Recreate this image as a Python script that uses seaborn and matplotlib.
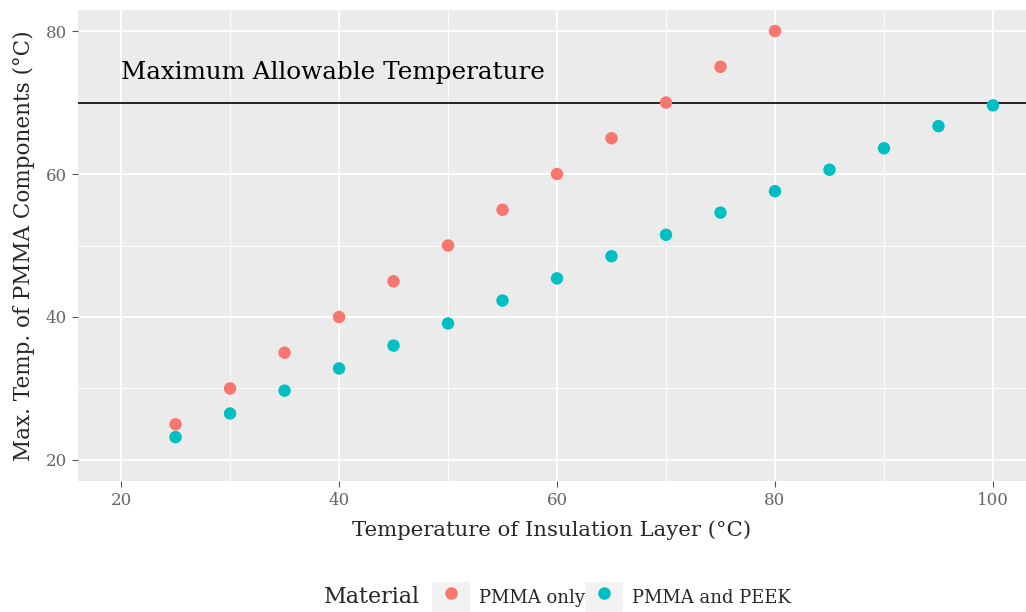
import matplotlib
matplotlib.use("Agg")
import matplotlib.pyplot as plt
import seaborn as sns
import pandas as pd
from matplotlib.lines import Line2D
from matplotlib.patches import Rectangle
from matplotlib.legend_handler import HandlerTuple

# Data
x_pmma = [25, 30, 35, 40, 45, 50, 55, 60, 65, 70, 75, 80]
y_pmma = [25, 30, 35, 40, 45, 50, 55, 60, 65, 70, 75, 80]
x_peek = [25, 30, 35, 40, 45, 50, 55, 60, 65, 70, 75, 80, 85, 90, 95, 100]
y_peek = [23.2, 26.5, 29.7, 32.8, 36.0, 39.1, 42.3, 45.4, 48.5, 51.5, 54.6, 57.6, 60.6, 63.6, 66.7, 69.6]
series_names = ["PMMA only", "PMMA and PEEK"]
max_allowable = 70
x_ticks = [20, 40, 60, 80, 100]
y_ticks = [20, 40, 60, 80]

df = pd.concat([
    pd.DataFrame({"x": x_pmma, "y": y_pmma, "Material": series_names[0]}),
    pd.DataFrame({"x": x_peek, "y": y_peek, "Material": series_names[1]}),
])

sns.set_theme(style="darkgrid")
plt.rcParams["font.family"] = ["DejaVu Serif"]

palette = {series_names[0]: "#F8766D", series_names[1]: "#00BFC4"}

fig = plt.figure(figsize=(10.26, 6.12), dpi=100)
ax = fig.add_axes([78/1026, 1 - 481/612, 1 - 78/1026, (481 - 10)/612])
ax.set_facecolor("#EBEBEB")

sns.scatterplot(data=df, x="x", y="y", hue="Material", palette=palette,
                s=80, edgecolor="none", ax=ax, legend=False, zorder=3)

ax.axhline(max_allowable, color="black", lw=1.2, zorder=2)
ax.text(20, max_allowable + 2.6, "Maximum Allowable Temperature", fontsize=17.7,
        ha="left", va="bottom", color="black")

ax.set_xlim(16.05, 103.03)
ax.set_ylim(17.06, 82.94)
ax.set_xticks(x_ticks)
ax.set_yticks(y_ticks)
ax.set_xticks([30, 50, 70, 90], minor=True)
ax.set_yticks([30, 50, 70], minor=True)
ax.grid(which="major", color="white", lw=1.3)
ax.grid(which="minor", color="white", lw=0.6)
for s in ax.spines.values():
    s.set_visible(False)
ax.tick_params(axis="both", which="major", length=4, width=0.8, color="#555555",
               labelcolor="#666666", labelsize=12, pad=4)
ax.tick_params(axis="both", which="minor", length=0)
ax.tick_params(axis="x", bottom=True)
ax.tick_params(axis="y", left=True)
ax.set_xlabel("Temperature of Insulation Layer (°C)", fontsize=15.3, labelpad=8)
ax.set_ylabel("Max. Temp. of PMMA Components (°C)", fontsize=15.5, labelpad=8)

# Legend at bottom
bg = lambda: Rectangle((0, 0), 1, 1, facecolor="#F2F2F2", edgecolor="none")
handles = [(bg(), Line2D([], [], ls="none", marker="o", ms=9, mec="none", mfc=palette[n]))
           for n in series_names]
leg = fig.legend(handles, series_names, handler_map={tuple: HandlerTuple(ndivide=1)},
                 loc="center left", bbox_to_anchor=(423/1026, 1 - 597/612), ncol=2,
                 frameon=False, fontsize=13, handlelength=2.1, handleheight=2.1,
                 handletextpad=0.5, columnspacing=0.0, borderpad=0)
fig.text(420/1026, 1 - 597/612, "Material", fontsize=16, ha="right", va="center")

fig.savefig("out.png", dpi=100)
